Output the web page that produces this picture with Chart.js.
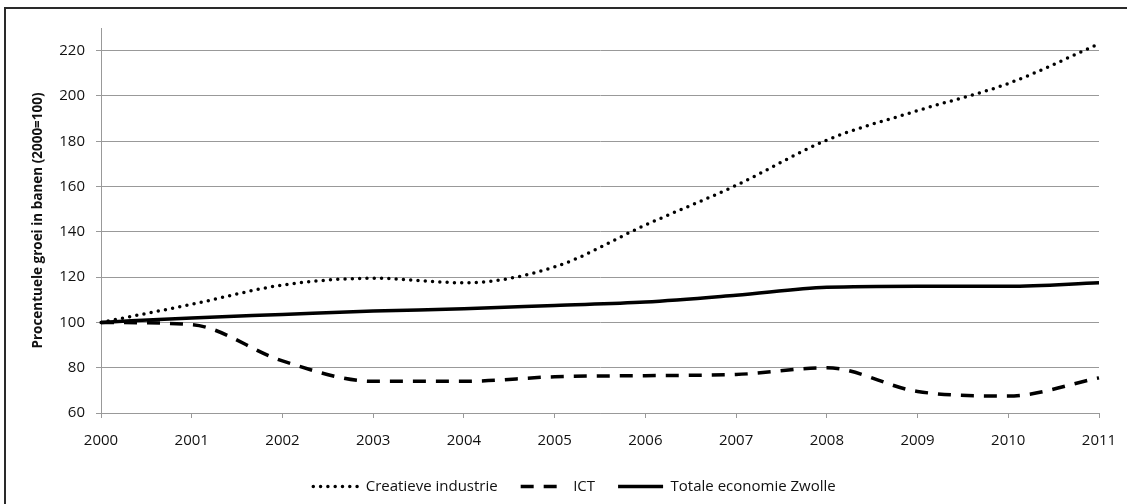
<!DOCTYPE html>
<html>
<head>
<meta charset="utf-8">
<script src="https://cdn.jsdelivr.net/npm/chart.js@4.4.1/dist/chart.umd.min.js"></script>
<style>
  html, body { margin: 0; padding: 0; background: #fff; }
  #wrap { position: relative; width: 1127px; height: 504px; overflow: hidden; }
  #frame { position: absolute; left: 4px; top: 7px; width: 1200px; height: 600px; border-top: 2px solid #2a2a2a; border-left: 2px solid #2a2a2a; pointer-events: none; }
  canvas { position: absolute; left: 0; top: 0; }
</style>
</head>
<body>
<div id="wrap">
  <canvas id="c" width="1127" height="504"></canvas>
  <div id="frame"></div>
</div>
<script>
const years = ['2000','2001','2002','2003','2004','2005','2006','2007','2008','2009','2010','2011'];
const creatieve = [100, 108, 116.5, 119.5, 117.5, 124.5, 143, 160.5, 180.5, 193.5, 205.5, 223];
const ict = [100, 99, 83, 74, 74, 76, 76.5, 77, 80, 69.5, 67.5, 75.5];
const totale = [100, 102, 103.5, 105, 106, 107.5, 109, 112, 115.5, 116, 116, 117.5];
const seriesNames = ['Creatieve industrie', 'ICT', 'Totale economie Zwolle'];
const yTitle = 'Procentuele groei in banen (2000=100)';

const FONT = "'Open Sans', 'Liberation Sans', sans-serif";
Chart.defaults.font.family = FONT;
Chart.defaults.color = '#111';

const shiftLegend = {
  id: 'shiftLegend',
  afterLayout(chart) {
    const lg = chart.legend;
    if (lg) { lg.left += 12; lg.right += 12; }
  }
};

new Chart(document.getElementById('c'), {
  type: 'line',
  data: {
    labels: years,
    datasets: [
      { label: seriesNames[0], data: creatieve, borderColor: '#000', backgroundColor: '#000',
        borderWidth: 3.5, borderDash: [0, 7.3], borderCapStyle: 'round', pointRadius: 0, cubicInterpolationMode: 'monotone', fill: false },
      { label: seriesNames[1], data: ict, borderColor: '#000', backgroundColor: '#000',
        borderWidth: 3.5, borderDash: [13, 10], borderCapStyle: 'butt', pointRadius: 0, cubicInterpolationMode: 'monotone', fill: false },
      { label: seriesNames[2], data: totale, borderColor: '#000', backgroundColor: '#000',
        borderWidth: 3.5, borderCapStyle: 'butt', pointRadius: 0, cubicInterpolationMode: 'monotone', fill: false }
    ]
  },
  plugins: [shiftLegend],
  options: {
    responsive: false,
    animation: false,
    layout: { padding: { left: 26, right: 28, top: 28, bottom: 0 } },
    plugins: {
      legend: {
        position: 'bottom',
        labels: {
          usePointStyle: true,
          pointStyle: 'line',
          pointStyleWidth: 45,
          padding: 23,
          color: '#111',
          font: { size: 15, family: FONT },
          generateLabels: (chart) => {
            const items = Chart.defaults.plugins.legend.labels.generateLabels(chart);
            items.forEach(it => {
              const ds = chart.data.datasets[it.datasetIndex];
              it.lineDash = ds.borderDash || [];
              it.lineWidth = ds.borderWidth;
              it.lineCap = ds.borderCapStyle;
              it.strokeStyle = '#000';
              it.pointStyle = 'line';
            });
            return items;
          }
        }
      },
      tooltip: { enabled: false }
    },
    scales: {
      x: {
        type: 'category',
        offset: false,
        grid: { display: true, drawOnChartArea: false, drawTicks: true, tickLength: 5, color: '#999', lineWidth: 1 },
        border: { display: true, color: '#999', width: 1 },
        ticks: { padding: 14, maxRotation: 0, autoSkip: false, color: '#111', font: { size: 15, family: FONT } },
        afterFit: (s) => { s.height = 43; s.paddingRight = 0; s.paddingLeft = 0; }
      },
      y: {
        min: 60,
        max: 230,
        afterBuildTicks: (s) => { s.ticks = s.ticks.filter(t => t.value <= 220 && (t.value - 60) % 20 === 0); },
        grid: { display: true, drawOnChartArea: true, drawTicks: true, tickLength: 5, color: '#999', lineWidth: 1 },
        border: { display: true, color: '#999', width: 1 },
        ticks: { stepSize: 20, padding: 11, color: '#111', font: { size: 15, family: FONT } },
        title: { display: true, text: yTitle, color: '#111', font: { size: 13.5, weight: 'bold', family: FONT }, padding: { top: 4, bottom: 4 } },
        afterFit: (s) => { s.width = 75; s.paddingTop = 0; s.paddingBottom = 0; }
      }
    }
  }
});
</script>
</body>
</html>
